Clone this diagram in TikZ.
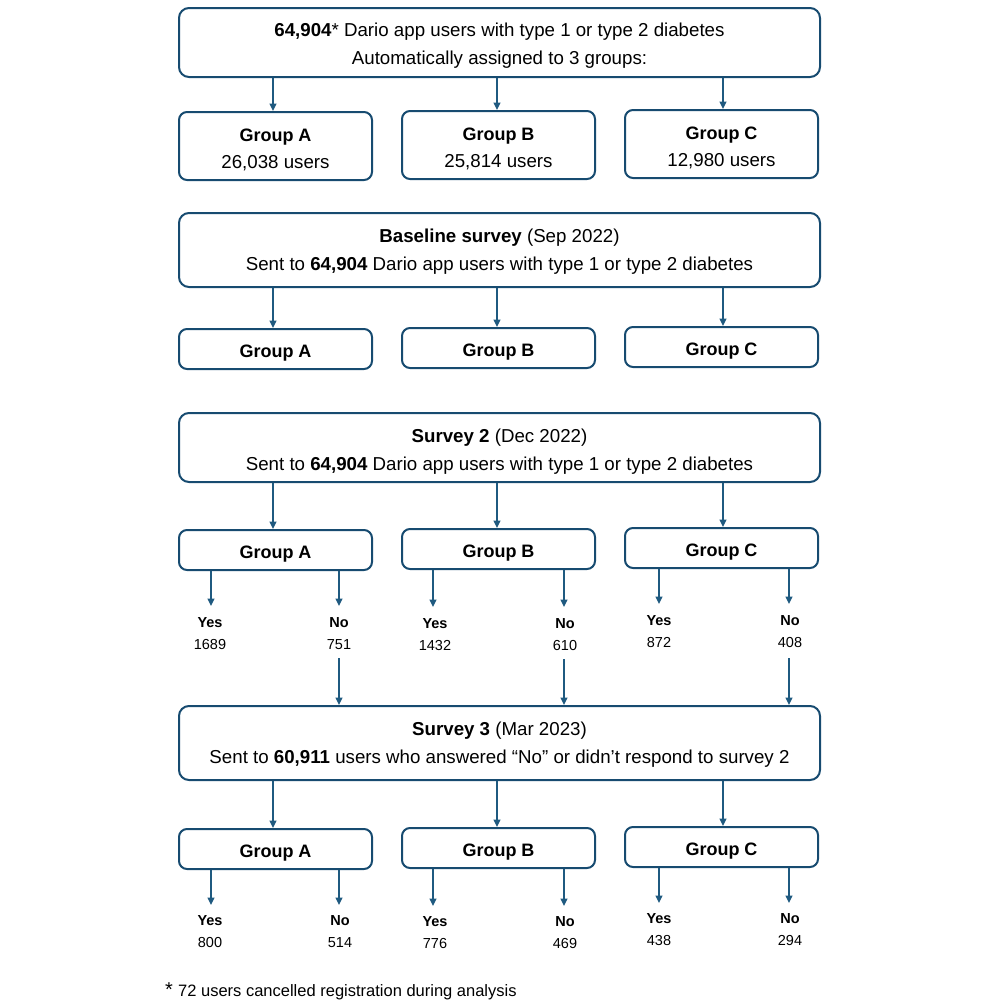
\documentclass[tikz,border=0pt]{standalone}
\usepackage{fontspec}
\setmainfont{Liberation Sans}
\usetikzlibrary{arrows.meta}
\definecolor{bc}{HTML}{174B70}
\definecolor{ac}{HTML}{1F5A80}
\begin{document}
\begin{tikzpicture}[x=1pt,y=-1pt,
  bigbox/.style={draw=bc,line width=2pt,rounded corners=10pt,minimum width=641pt,inner sep=0pt},
  grpbox/.style={draw=bc,line width=2pt,rounded corners=8pt,minimum width=193pt,inner sep=0pt},
  txt/.style={anchor=base,inner sep=0pt,font=\fontsize{18.7}{22}\selectfont},
  gtxt/.style={anchor=base,inner sep=0pt,font=\fontsize{18}{22}\selectfont\bfseries},
  yn/.style={anchor=base,inner sep=0pt,font=\fontsize{14.5}{18}\selectfont},
  arr/.style={draw=ac,line width=1.5pt,-{Triangle[width=7pt,length=7.5pt]}}]
\useasboundingbox (0,0) rectangle (1000,1005);
% top
\node[bigbox,minimum height=69pt] (top) at (499.5,42.5) {};
\node[txt] (top1) at (499.5,36.5) {\textbf{64,904}* Dario app users with type 1 or type 2 diabetes};
\node[txt] (top2) at (499.5,64.5) {Automatically assigned to 3 groups:};
\node[grpbox,minimum height=68pt] (a1) at (275.5,146) {};
\node[grpbox,minimum height=68pt] (b1) at (498.5,145) {};
\node[grpbox,minimum height=68pt] (c1) at (721.5,144) {};
\node[gtxt] (a1t) at (275.5,141) {Group A};
\node[gtxt] (b1t) at (498.5,140) {Group B};
\node[gtxt] (c1t) at (721.5,139) {Group C};
\node[txt] (a1n) at (275.5,168) {26,038 users};
\node[txt] (b1n) at (498.5,167) {25,814 users};
\node[txt] (c1n) at (721.5,166) {12,980 users};
\foreach \g/\x in {a1/273,b1/497,c1/723}{\draw[arr] (top.south -| \x,0) -- (\g.north -| \x,0);}
% baseline
\node[bigbox,minimum height=74pt] (base) at (499.5,250) {};
\node[txt] (base1) at (499.5,242) {\textbf{Baseline survey} (Sep 2022)};
\node[txt] (base2) at (499.5,270) {Sent to \textbf{64,904} Dario app users with type 1 or type 2 diabetes};
\node[grpbox,minimum height=40pt] (a2) at (275.5,349) {};
\node[grpbox,minimum height=40pt] (b2) at (498.5,348) {};
\node[grpbox,minimum height=40pt] (c2) at (721.5,347) {};
\node[gtxt] (a2t) at (275.5,357) {Group A};
\node[gtxt] (b2t) at (498.5,356) {Group B};
\node[gtxt] (c2t) at (721.5,355) {Group C};
\foreach \g/\x in {a2/273,b2/497,c2/723}{\draw[arr] (base.south -| \x,0) -- (\g.north -| \x,0);}
% survey 2
\node[bigbox,minimum height=69pt] (s2) at (499.5,447.5) {};
\node[txt] (s21) at (499.5,442) {\textbf{Survey 2} (Dec 2022)};
\node[txt] (s22) at (499.5,470) {Sent to \textbf{64,904} Dario app users with type 1 or type 2 diabetes};
\node[grpbox,minimum height=40pt] (a3) at (275.5,550) {};
\node[grpbox,minimum height=40pt] (b3) at (498.5,549) {};
\node[grpbox,minimum height=40pt] (c3) at (721.5,548) {};
\node[gtxt] (a3t) at (275.5,558) {Group A};
\node[gtxt] (b3t) at (498.5,557) {Group B};
\node[gtxt] (c3t) at (721.5,556) {Group C};
\foreach \g/\x in {a3/273,b3/497,c3/723}{\draw[arr] (s2.south -| \x,0) -- (\g.north -| \x,0);}
\node[yn] (a3y) at (210,627) {\textbf{Yes}};
\node[yn] (a3yv) at (210,649) {1689};
\node[yn] (a3n) at (339,627) {\textbf{No}};
\node[yn] (a3nv) at (339,649) {751};
\node[yn] (b3y) at (435,628) {\textbf{Yes}};
\node[yn] (b3yv) at (435,650) {1432};
\node[yn] (b3n) at (565,628) {\textbf{No}};
\node[yn] (b3nv) at (565,650) {610};
\node[yn] (c3y) at (659,625) {\textbf{Yes}};
\node[yn] (c3yv) at (659,647) {872};
\node[yn] (c3n) at (790,625) {\textbf{No}};
\node[yn] (c3nv) at (790,647) {408};
\draw[arr] (a3.south -| 211,0) -- (211,606);
\draw[arr] (a3.south -| 339,0) -- (339,606);
\draw[arr] (b3.south -| 433,0) -- (433,607);
\draw[arr] (b3.south -| 564,0) -- (564,607);
\draw[arr] (c3.south -| 659,0) -- (659,604);
\draw[arr] (c3.south -| 789,0) -- (789,604);
% survey 3
\node[bigbox,minimum height=74pt] (s3) at (499.5,743) {};
\node[txt] (s31) at (499.5,735) {\textbf{Survey 3} (Mar 2023)};
\node[txt] (s32) at (499.5,763) {Sent to \textbf{60,911} users who answered “No” or didn’t respond to survey 2};
\draw[arr] (a3nv.south -| 339,0) ++(0,9) -- (s3.north -| 339,0);
\draw[arr] (b3nv.south -| 564,0) ++(0,9) -- (s3.north -| 564,0);
\draw[arr] (c3nv.south -| 789,0) ++(0,11) -- (s3.north -| 789,0);
\node[grpbox,minimum height=40pt] (a4) at (275.5,849) {};
\node[grpbox,minimum height=40pt] (b4) at (498.5,848) {};
\node[grpbox,minimum height=40pt] (c4) at (721.5,847) {};
\node[gtxt] (a4t) at (275.5,857) {Group A};
\node[gtxt] (b4t) at (498.5,856) {Group B};
\node[gtxt] (c4t) at (721.5,855) {Group C};
\foreach \g/\x in {a4/273,b4/497,c4/723}{\draw[arr] (s3.south -| \x,0) -- (\g.north -| \x,0);}
\node[yn] (a4y) at (210,925) {\textbf{Yes}};
\node[yn] (a4yv) at (210,947) {800};
\node[yn] (a4n) at (340,925) {\textbf{No}};
\node[yn] (a4nv) at (340,947) {514};
\node[yn] (b4y) at (435,926) {\textbf{Yes}};
\node[yn] (b4yv) at (435,948) {776};
\node[yn] (b4n) at (565,926) {\textbf{No}};
\node[yn] (b4nv) at (565,948) {469};
\node[yn] (c4y) at (659,923) {\textbf{Yes}};
\node[yn] (c4yv) at (659,945) {438};
\node[yn] (c4n) at (790,923) {\textbf{No}};
\node[yn] (c4nv) at (790,945) {294};
\draw[arr] (a4.south -| 211,0) -- (211,905);
\draw[arr] (a4.south -| 339,0) -- (339,905);
\draw[arr] (b4.south -| 433,0) -- (433,906);
\draw[arr] (b4.south -| 564,0) -- (564,906);
\draw[arr] (c4.south -| 659,0) -- (659,903);
\draw[arr] (c4.south -| 789,0) -- (789,903);
% footnote
\node[anchor=base,inner sep=0pt,font=\fontsize{20}{20}\selectfont] (star) at (169,996) {*};
\node[anchor=base west,inner sep=0pt,font=\fontsize{16.5}{18}\selectfont] (fn) at (178,996) {72 users cancelled registration during analysis};
\end{tikzpicture}
\end{document}
